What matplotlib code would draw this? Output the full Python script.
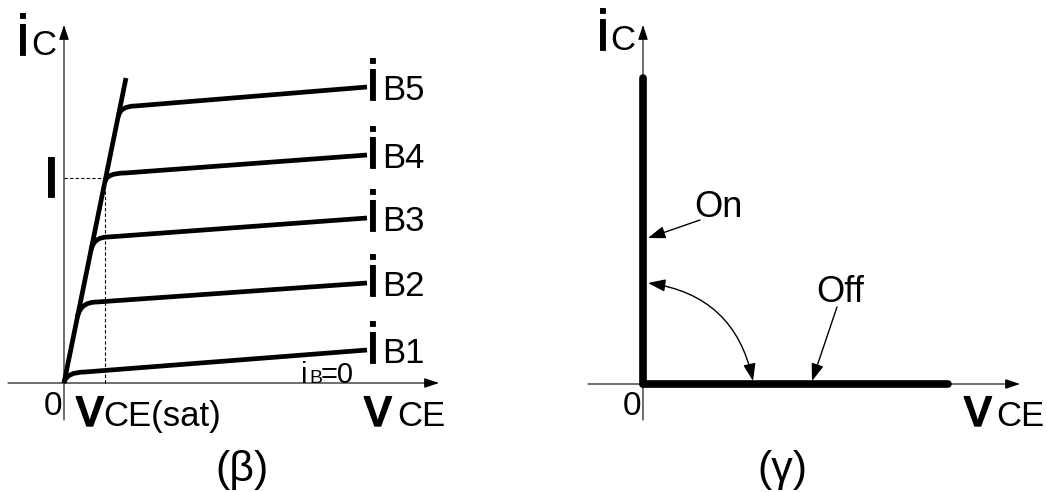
#  BJT output characteristics (left) and ideal switch characteristic (right)

import matplotlib.pyplot as plt
import matplotlib.patheffects as pe
from matplotlib.patches import FancyArrowPatch, PathPatch
from matplotlib.path import Path

plt.rcParams['font.family'] = ['Liberation Sans', 'DejaVu Sans']

#  data: 1 unit = 1 pixel, origin of each panel at (0, 0)

#  saturation (load) line of panel (b)
sat_v = [0, 62]
sat_i = [0, 305]

#  one curve per base current
curve_labels = ['B1', 'B2', 'B3', 'B4', 'B5']
bend_i = [0, 66, 133, 201, 266]        # where the curve leaves the sat line
flat_start_v = [21, 33, 44, 61, 71]
flat_start_i = [11, 81, 146, 210, 277]
flat_end_v = [303, 303, 303, 303, 303]
flat_end_i = [33, 100, 165, 228, 296]

#  operating point I / VCE(sat)
op_v = 41
op_i = 205

#  panel (c): ideal switch
on_i = 306
off_v = 305

fig = plt.figure(figsize=(10.47, 4.92), dpi=100)

#  left panel, origin at pixel (64, 383)
axl = fig.add_axes([0, 0, 1, 1])
axl.set_xlim(-64, 983)
axl.set_ylim(-109, 383)
axl.axis('off')

#  right panel, origin at pixel (643, 384)
axr = fig.add_axes([0, 0, 1, 1])
axr.set_xlim(-643, 404)
axr.set_ylim(-108, 384)
axr.axis('off')

heavy = [pe.withStroke(linewidth=0.6, foreground='black')]
heavy_v = [pe.withStroke(linewidth=1.0, foreground='black')]


def axis_arrow(ax, x0, y0, x1, y1):
    ax.add_patch(FancyArrowPatch((x0, y0), (x1, y1),
                                 arrowstyle='-|>,head_length=0.6,head_width=0.2',
                                 mutation_scale=15, lw=0.8, color='black',
                                 shrinkA=0, shrinkB=0))


def big_i(ax, x, y, small, xs, ssize=25):
    ax.text(x, y, 'i', fontsize=42, ha='left', va='baseline',
            path_effects=heavy)
    ax.text(xs, y, small, fontsize=ssize, ha='left', va='baseline')


def big_v(ax, x, y, small, xs):
    ax.text(x, y, 'v', fontsize=40, ha='left', va='baseline',
            path_effects=heavy_v)
    ax.text(xs, y, small, fontsize=25, ha='left', va='baseline')


#  ---- left panel ----
axis_arrow(axl, -56, 0, 375, 0)
axis_arrow(axl, 0, -37, 0, 358)

axl.plot([0, op_v], [op_i, op_i], color='black', lw=0.8, ls=(0, (3, 2)))
axl.plot([op_v, op_v], [0, op_i], color='black', lw=0.8, ls=(0, (3, 2)))

axl.plot(sat_v, sat_i, color='black', lw=3.4, solid_capstyle='butt')

slope = sat_v[1] / sat_i[1]
for k in range(len(curve_labels)):
    p0 = (bend_i[k] * slope, bend_i[k])
    pc = (flat_start_i[k] * slope, flat_start_i[k])
    p1 = (flat_start_v[k], flat_start_i[k])
    p2 = (flat_end_v[k], flat_end_i[k])
    path = Path([p0, pc, p1, p2],
                [Path.MOVETO, Path.CURVE3, Path.CURVE3, Path.LINETO])
    axl.add_patch(PathPatch(path, fill=False, lw=3.4, color='black',
                            capstyle='butt'))
    big_i(axl, 302, flat_end_i[k] - 13, curve_labels[k], 318)

big_i(axl, -48, 328, 'C', -33)
axl.text(-21, 186, 'I', fontsize=42, ha='left', va='baseline',
         path_effects=heavy)
axl.text(-11, -32, '0', fontsize=24, ha='center', va='baseline')
big_v(axl, 12, -43, 'CE(sat)', 39)
big_v(axl, 300, -43, 'CE', 333)

axl.text(237, 0, 'i', fontsize=21, ha='left', va='baseline')
axl.text(245, 0, 'B', fontsize=14, ha='left', va='baseline')
axl.text(257, 0, '=0', fontsize=21, ha='left', va='baseline')

axl.text(178, -98, '(β)', fontsize=31, ha='center', va='baseline')

#  ---- right panel ----
axis_arrow(axr, -55, 0, 377, 0)
axis_arrow(axr, 0, -36, 0, 359)

axr.plot([0, 0], [0, on_i], color='black', lw=5.5, solid_capstyle='round')
axr.plot([0, off_v], [0, 0], color='black', lw=5.5, solid_capstyle='round')

big_i(axr, -47, 334, 'C', -33)
axr.text(-11, -31, '0', fontsize=24, ha='center', va='baseline')
big_v(axr, 321, -42, 'CE', 353)

axr.text(51, 167, 'On', fontsize=26, ha='left', va='baseline')
axr.text(173, 82, 'Off', fontsize=26, ha='left', va='baseline')

head = '-|>,head_length=0.7,head_width=0.25'
axr.add_patch(FancyArrowPatch((57, 164), (5, 146), arrowstyle=head,
                              mutation_scale=15, lw=1, color='black',
                              shrinkA=0, shrinkB=0))
axr.add_patch(FancyArrowPatch((194, 77), (169, 3), arrowstyle=head,
                              mutation_scale=15, lw=1, color='black',
                              shrinkA=0, shrinkB=0))
axr.add_patch(FancyArrowPatch((5, 101), (110, 3),
                              arrowstyle='<|-|>,head_length=0.7,head_width=0.25',
                              connectionstyle='arc3,rad=-0.35',
                              mutation_scale=15, lw=1, color='black',
                              shrinkA=0, shrinkB=0))

axr.text(139, -97, '(γ)', fontsize=31, ha='center', va='baseline')

plt.savefig('out.png', dpi=100)
